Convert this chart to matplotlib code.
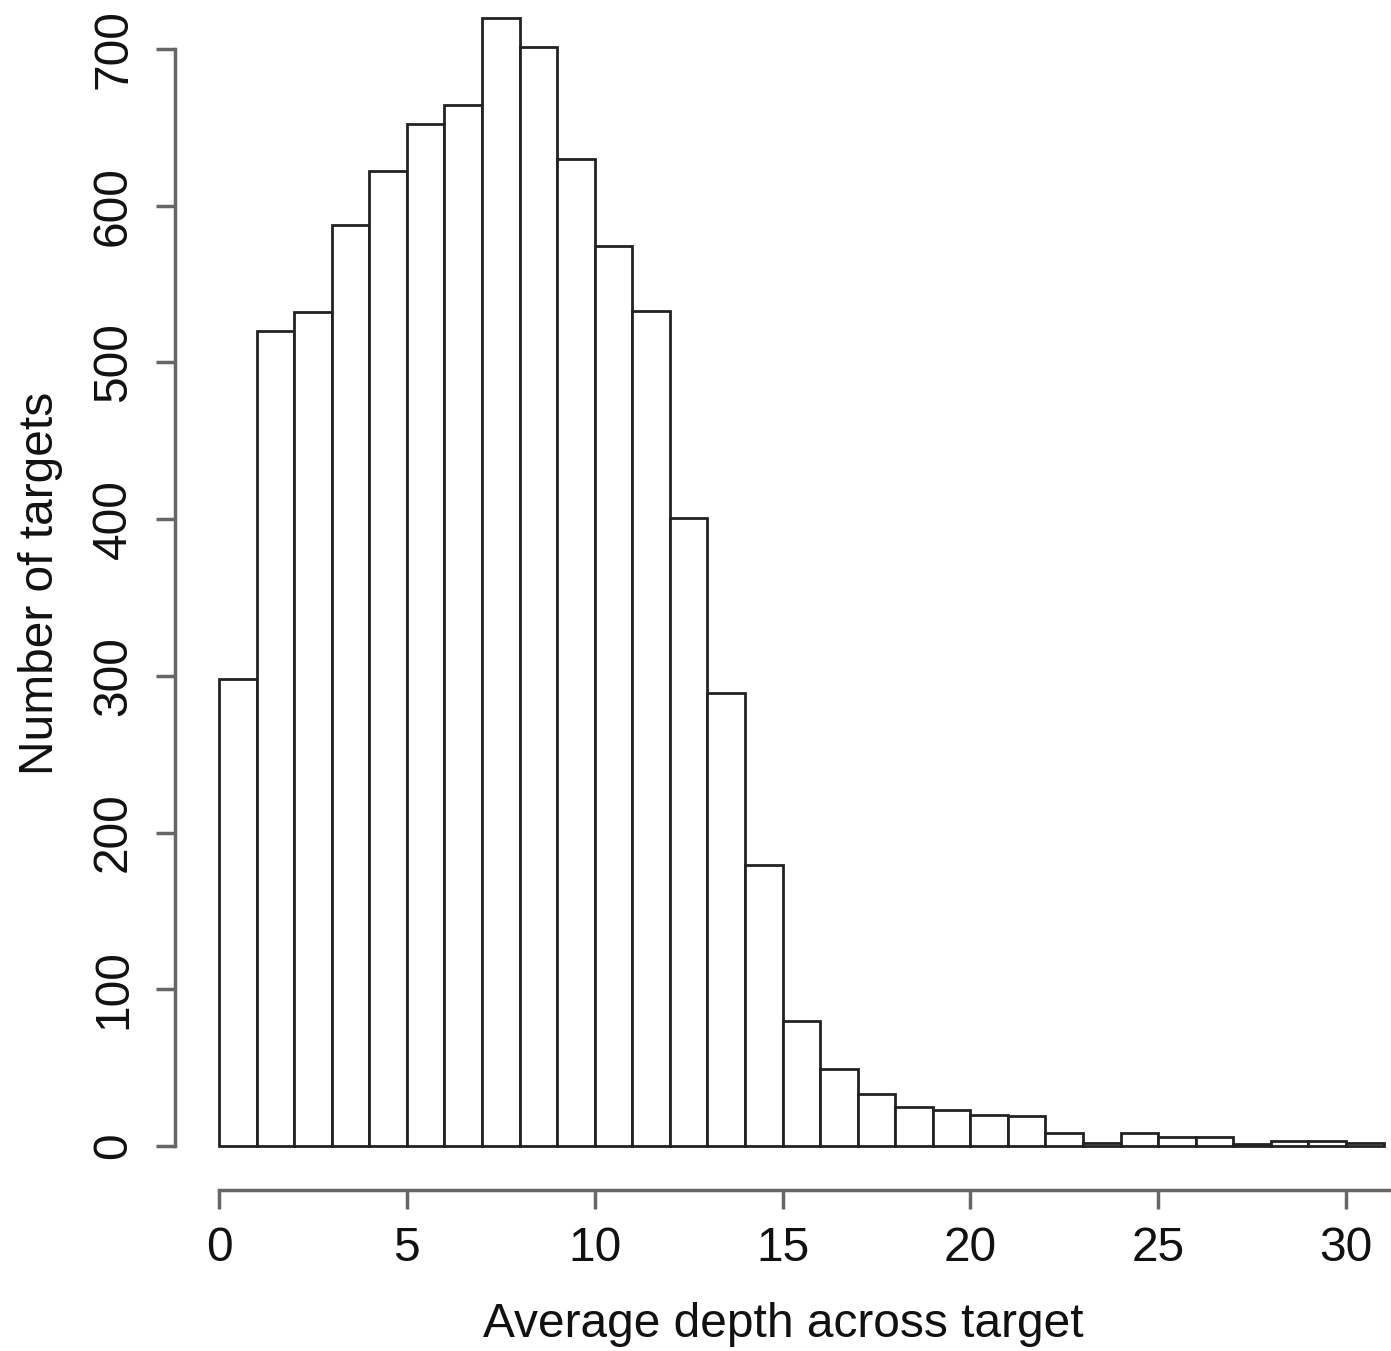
import matplotlib
matplotlib.use("Agg")
import matplotlib.pyplot as plt
import numpy as np

bin_edges = list(range(0, 32))
counts = [298, 520, 532, 588, 622, 652, 664, 720, 701, 630,
          574, 533, 401, 289, 179, 80, 49, 33, 25, 23,
          20, 19, 8, 2, 8, 6, 6, 1, 3, 3, 2]
x_ticks = [0, 5, 10, 15, 20, 25, 30]
y_ticks = [0, 100, 200, 300, 400, 500, 600, 700]
x_label = "Average depth across target"
y_label = "Number of targets"

plt.rcParams['font.family'] = ['Liberation Sans', 'DejaVu Sans']

W, H = 1391, 1351
fig = plt.figure(figsize=(W / 100, H / 100), dpi=100)
left_px, right_px, top_px, bottom_px = 175, 1391, 10, 1190
ax = fig.add_axes([left_px / W, 1 - bottom_px / H, (right_px - left_px) / W, (bottom_px - top_px) / H])

ax.bar(bin_edges[:-1], counts, width=1, align='edge', facecolor='white',
       edgecolor='#222222', linewidth=2.0)

ax.set_xticks(x_ticks)
ax.set_yticks(y_ticks)
ax.set_xticklabels([str(t) for t in x_ticks], fontsize=34.5)
ax.set_yticklabels([str(t) for t in y_ticks], fontsize=34.5, rotation=90, va='center')

# data->pixel: x0=219, x30=1346 ; y0=1146, y700=49
xs = 1127 / 30
ys = 1097 / 700
xmax = (right_px - 219) / xs
ax.set_xlim((left_px - 219) / xs, xmax)
ax.set_ylim((1146 - bottom_px) / ys, (1146 - top_px) / ys)

for s in ['top', 'right']:
    ax.spines[s].set_visible(False)
ax.spines['left'].set_bounds(0, 700)
ax.spines['bottom'].set_bounds(0, xmax)
for s in ['left', 'bottom']:
    ax.spines[s].set_color('#666666')
    ax.spines[s].set_linewidth(2.5)

ax.tick_params(axis='both', length=14, width=2.5, color='#666666', labelcolor='#111111', pad=12)
ax.tick_params(axis='y', pad=14)

ax.set_xlabel(x_label, fontsize=34.5, color='#111111', labelpad=22)
ax.set_ylabel(y_label, fontsize=34.5, color='#111111', labelpad=20)
ax.yaxis.label.set_y((bottom_px - 583) / (bottom_px - top_px))

fig.savefig("out.png", dpi=100)
